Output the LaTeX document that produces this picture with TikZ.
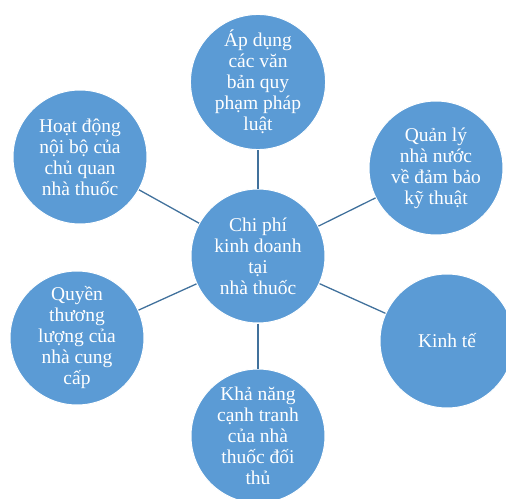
\documentclass[tikz,border=0pt]{standalone}
\usepackage{fontspec}
\setmainfont{Liberation Serif}

\definecolor{bubblefill}{HTML}{5B9BD5}
\definecolor{spokeblue}{HTML}{41719C}

\begin{document}
\begin{tikzpicture}[
  x=1pt, y=-1pt,
  bubble/.style={circle, draw=white, line width=1pt, fill=bubblefill, text=white, align=center, minimum size=134pt, inner sep=0pt, font=\fontsize{19.5}{21}\selectfont},
  link/.style={draw=spokeblue, line width=1.3pt}
]
\clip (0,0) rectangle (506,498);

\node[bubble] (cost) at (258,256) {Chi phí\\kinh doanh\\tại\\nhà thuốc};
\node[bubble] (law) at (258,82) {Áp dụng\\các văn\\bản quy\\phạm pháp\\luật};
\node[bubble] (state) at (436,168) {Quản lý\\nhà nước\\về đảm bảo\\kỹ thuật};
\node[bubble] (economy) at (447,341) {Kinh tế};
\node[bubble] (rival) at (258,436) {Khả năng\\cạnh tranh\\của nhà\\thuốc đối\\thủ};
\node[bubble] (supplier) at (77,338) {Quyền\\thương\\lượng của\\nhà cung\\cấp};
\node[bubble] (inside) at (80,157) {Hoạt động\\nội bộ của\\chủ quan\\nhà thuốc};

\draw[link] (cost) -- (law);
\draw[link] (cost) -- (state);
\draw[link] (cost) -- (economy);
\draw[link] (cost) -- (rival);
\draw[link] (cost) -- (supplier);
\draw[link] (cost) -- (inside);
\end{tikzpicture}
\end{document}
